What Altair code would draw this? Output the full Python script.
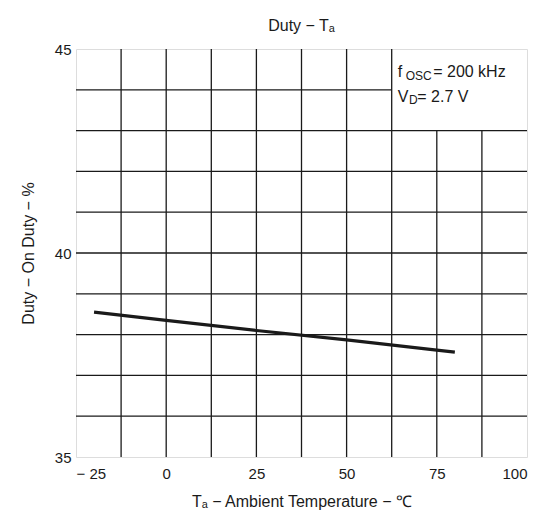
import altair as alt
import pandas as pd

# Data line
temps = [-20, 0, 25, 50, 75, 80]
duty = [38.55, 38.35, 38.10, 37.87, 37.62, 37.57]

# Grid layout
v_x = [-12.5, 0, 12.5, 25, 37.5, 50, 62.5, 75, 87.5]
v_top = [45, 45, 45, 45, 45, 45, 45, 43, 43]
h_y = [36, 37, 38, 39, 40, 41, 42, 43, 44]
h_right = [100, 100, 100, 100, 100, 100, 100, 100, 62.5]

x_ticks = [-25, 0, 25, 50, 75, 100]
y_ticks = [35, 40, 45]

# Annotation text (condition box)
ann_text = ["f", "OSC", "= 200  kHz", "V", "D", "= 2.7  V"]
ann_x = [64.2, 66.4, 74.0, 64.2, 67.3, 69.6]
ann_y = [44.31, 44.25, 44.31, 43.70, 43.64, 43.70]
ann_size = [16, 12, 16, 16, 12, 16]

FONT = "Liberation Sans"
INK = "#1a1a1a"

xs = alt.Scale(domain=[-25, 100], nice=False, zero=False)
ys = alt.Scale(domain=[35, 45], nice=False, zero=False)

line_df = pd.DataFrame({"t": temps, "d": duty})
v_df = pd.DataFrame({"x": v_x, "y0": [35] * len(v_x), "y1": v_top})
h_df = pd.DataFrame({"y": h_y, "x0": [-25] * len(h_y), "x1": h_right})
ann_df = pd.DataFrame({"x": ann_x, "y": ann_y, "txt": ann_text, "s": ann_size})

base_x = alt.X(
    "t:Q", scale=xs,
    axis=alt.Axis(values=x_ticks, grid=False, ticks=False, domain=False,
                  labelFont=FONT, labelFontSize=15, labelColor=INK, labelPadding=9,
                  labelExpr="datum.value < 0 ? '\u2212 ' + abs(datum.value) : datum.label",
                  title="T\u2090 \u2212 Ambient Temperature \u2212 \u2103",
                  titleFont=FONT, titleFontSize=16, titleFontWeight="normal",
                  titleColor=INK, titlePadding=12),
)
base_y = alt.Y(
    "d:Q", scale=ys,
    axis=alt.Axis(values=y_ticks, grid=False, ticks=False, domain=False,
                  labelFont=FONT, labelFontSize=15, labelColor=INK, labelPadding=5,
                  title="Duty \u2212 On Duty \u2212 %",
                  titleFont=FONT, titleFontSize=16, titleFontWeight="normal",
                  titleColor=INK, titlePadding=18),
)

line = alt.Chart(line_df).mark_line(color=INK, strokeWidth=3.2).encode(x=base_x, y=base_y)

vgrid = alt.Chart(v_df).mark_rule(color=INK, strokeWidth=1.3).encode(
    x=alt.X("x:Q", scale=xs), y=alt.Y("y0:Q", scale=ys), y2="y1:Q")
hgrid = alt.Chart(h_df).mark_rule(color=INK, strokeWidth=1.3).encode(
    y=alt.Y("y:Q", scale=ys), x=alt.X("x0:Q", scale=xs), x2="x1:Q")

ann = alt.Chart(ann_df).mark_text(align="left", baseline="alphabetic", font=FONT, color=INK).encode(
    x=alt.X("x:Q", scale=xs), y=alt.Y("y:Q", scale=ys), text="txt:N",
    size=alt.Size("s:Q", scale=None, legend=None))

chart = alt.layer(vgrid, hgrid, line, ann).properties(
    width=451, height=408,
    title=alt.TitleParams("Duty \u2212 T\u2090", font=FONT, fontSize=16, fontWeight="normal",
                          color=INK, offset=8, anchor="middle"),
    autosize=alt.AutoSizeParams(type="none"),
    padding={"left": 68, "top": 41, "right": 15, "bottom": 60},
).configure_view(stroke=INK, strokeWidth=2).configure(background="white")

chart.save("out.html", embed_options={"renderer": "svg", "actions": False})
